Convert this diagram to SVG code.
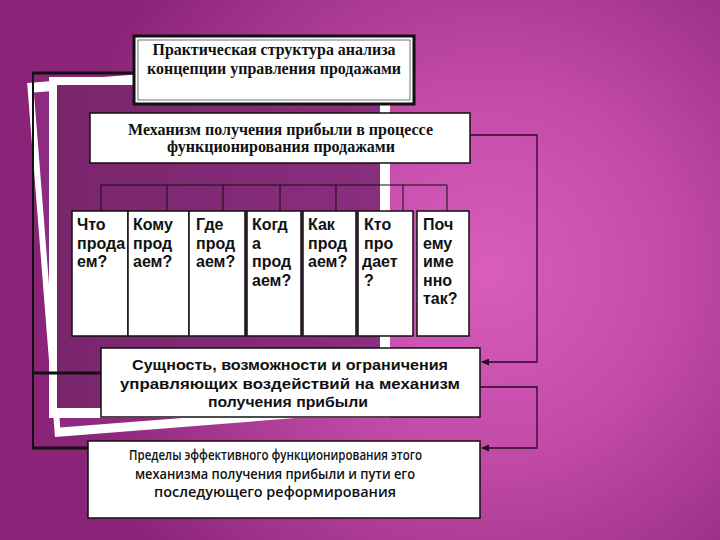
<svg xmlns="http://www.w3.org/2000/svg" width="720" height="540" viewBox="0 0 720 540">
<defs>
<radialGradient id="bg" gradientUnits="userSpaceOnUse" cx="490" cy="270" r="440">
<stop offset="0" stop-color="#d85dbd"/>
<stop offset="0.4" stop-color="#c44ca9"/>
<stop offset="1" stop-color="#8a2478"/>
</radialGradient>
<linearGradient id="dark" x1="0" y1="0" x2="1" y2="0">
<stop offset="0" stop-color="#79256c"/>
<stop offset="1" stop-color="#8a2e7e"/>
</linearGradient>
<marker id="arr" markerWidth="8" markerHeight="7" refX="7" refY="3.5" orient="auto" markerUnits="userSpaceOnUse">
<path d="M0,0 L8,3.5 L0,7 z" fill="#2a0a28"/>
</marker>
<style>
.box{fill:#fff;stroke:#111;stroke-width:1.5}
.serif{font-family:"Liberation Serif","Times New Roman",serif;font-weight:bold;font-size:16px;text-anchor:middle;fill:#111}
.col{font-family:"Liberation Sans",Arial,sans-serif;font-weight:bold;font-size:16px;fill:#111}
.sans{font-family:"Liberation Sans",Arial,sans-serif;font-weight:bold;font-size:15px;text-anchor:middle;fill:#111}
.cal{font-family:"Open Sans","Noto Sans",sans-serif;font-weight:600;font-size:14px;text-anchor:middle;fill:#111}
.con{fill:none;stroke:#2a0a28;stroke-width:1.3}
.frame{fill:none;stroke:#111}
.br{fill:none;stroke:#111;stroke-width:1}
</style>
</defs>
<rect width="720" height="540" fill="url(#bg)"/>
<g id="decoration">
<g transform="rotate(-4.5 55 437)">
<rect x="55" y="82" width="340" height="355" fill="#fff"/>
<rect x="61" y="92" width="328" height="336" fill="#8e2b80"/>
</g>
<rect x="49" y="77" width="341" height="341" fill="#fff"/>
<rect x="57" y="85" width="323" height="323" fill="url(#dark)"/>
</g>
<g id="connectors">
<path class="frame" stroke-width="3" d="M133,73 H33"/>
<path class="frame" stroke-width="2" d="M33,72 V449"/>
<path class="frame" stroke-width="3" d="M33,373 H101 M33,448 H88"/>
<path class="br" d="M101,185 H447 M101,185 V211 M167,185 V211 M223,185 V211 M280,185 V211 M336,185 V211 M403,185 V211 M447,185 V211"/>
<polyline class="con" points="470,135 537,135 537,362 482,362" marker-end="url(#arr)"/>
<polyline class="con" points="480,387 537,387 537,448 482,448" marker-end="url(#arr)"/>
</g>
<g id="title">
<rect x="134" y="36" width="280" height="68" fill="#fff" stroke="#111" stroke-width="3"/>
<rect x="138" y="40" width="272" height="60" fill="none" stroke="#111" stroke-width="0.6"/>
<text class="serif" x="274" y="55" textLength="243" lengthAdjust="spacingAndGlyphs">Практическая структура анализа</text>
<text class="serif" x="274" y="74" textLength="254" lengthAdjust="spacingAndGlyphs">концепции управления продажами</text>
</g>
<g id="mechanism">
<rect class="box" x="90" y="113" width="380" height="50"/>
<text class="serif" x="280.5" y="134.5" textLength="305" lengthAdjust="spacingAndGlyphs">Механизм получения прибыли в процессе</text>
<text class="serif" x="281" y="152" textLength="228" lengthAdjust="spacingAndGlyphs">функционирования продажами</text>
</g>
<g id="q1">
<rect class="box" x="72" y="211" width="56" height="125"/>
<text class="col"><tspan x="77" y="230">Что</tspan><tspan x="77" y="248.5">прода</tspan><tspan x="77" y="267">ем?</tspan></text>
</g>
<g id="q2">
<rect class="box" x="128" y="211" width="61" height="125"/>
<text class="col"><tspan x="133" y="230">Кому</tspan><tspan x="133" y="248.5">прод</tspan><tspan x="133" y="267">аем?</tspan></text>
</g>
<g id="q3">
<rect class="box" x="189" y="211" width="56" height="125"/>
<text class="col"><tspan x="196" y="230">Где</tspan><tspan x="196" y="248.5">прод</tspan><tspan x="196" y="267">аем?</tspan></text>
</g>
<g id="q4">
<rect class="box" x="247" y="211" width="54" height="125"/>
<text class="col"><tspan x="252" y="230">Когд</tspan><tspan x="252" y="248.5">а</tspan><tspan x="252" y="267">прод</tspan><tspan x="252" y="285.5">аем?</tspan></text>
</g>
<g id="q5">
<rect class="box" x="303" y="211" width="53" height="125"/>
<text class="col"><tspan x="308" y="230">Как</tspan><tspan x="308" y="248.5">прод</tspan><tspan x="308" y="267">аем?</tspan></text>
</g>
<g id="q6">
<rect class="box" x="358" y="211" width="55" height="125"/>
<text class="col"><tspan x="364" y="230">Кто</tspan><tspan x="364" y="248.5">про</tspan><tspan x="362" y="267">дает</tspan><tspan x="364" y="285.5">?</tspan></text>
</g>
<g id="q7">
<rect class="box" x="417" y="211" width="52" height="125"/>
<text class="col"><tspan x="423" y="230">Поч</tspan><tspan x="423" y="248.5">ему</tspan><tspan x="423" y="267">име</tspan><tspan x="423" y="285.5">нно</tspan><tspan x="423" y="304">так?</tspan></text>
</g>
<g id="essence">
<rect class="box" x="101" y="348" width="379" height="69"/>
<text class="sans" x="290" y="370" textLength="316" lengthAdjust="spacingAndGlyphs">Сущность, возможности и ограничения</text>
<text class="sans" x="290" y="388.5" textLength="340" lengthAdjust="spacingAndGlyphs">управляющих воздействий на механизм</text>
<text class="sans" x="288" y="407" textLength="160" lengthAdjust="spacingAndGlyphs">получения прибыли</text>
</g>
<g id="limits">
<rect class="box" x="88" y="441" width="392" height="77"/>
<text class="cal" x="275.5" y="460" textLength="293" lengthAdjust="spacingAndGlyphs">Пределы эффективного функционирования этого</text>
<text class="cal" x="275" y="478.5" textLength="280" lengthAdjust="spacingAndGlyphs">механизма получения прибыли и пути его</text>
<text class="cal" x="275" y="497" textLength="242" lengthAdjust="spacingAndGlyphs">последующего реформирования</text>
</g>
</svg>
